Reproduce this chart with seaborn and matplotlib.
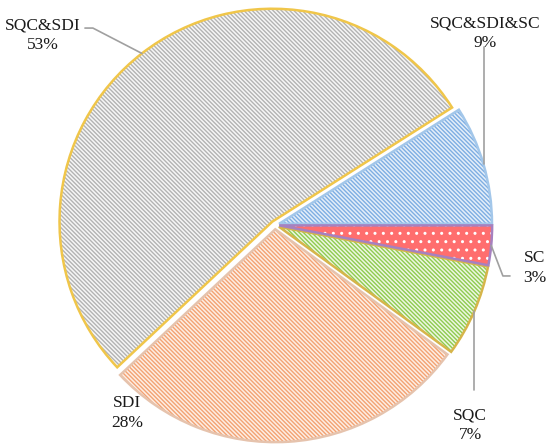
import numpy as np
import matplotlib.pyplot as plt
import seaborn as sns

# data
categories = ['SQC&SDI&SC', 'SQC&SDI', 'SDI', 'SQC', 'SC']
shares = [9, 53, 28, 7, 3]

sns.set_style('white')
plt.rcParams['font.family'] = ['Liberation Serif', 'DejaVu Serif']
plt.rcParams['hatch.linewidth'] = 1.0

face_colors = ['#e4eef9', '#f6f6f6', '#fdeee4', '#edf7e2', '#ff6e6e']
stripe_colors = ['#7eaee2', '#b3b3b3', '#f3a273', '#8fcb4f', '#ffffff']
edge_colors = ['#a3c7ea', '#f0c64a', '#e6c3ad', '#d6b54a', '#a681c0']
hatches = ['\\' * 8, '\\' * 8, '\\' * 8, '\\' * 8, '..']

# label block centres (data units, pie radius ~1) and leader line bends
label_pos = {
    'SQC&SDI&SC': (0.977, 0.89),
    'SQC&SDI': (-1.079, 0.884),
    'SDI': (-0.688, -0.874),
    'SQC': (0.907, -0.93),
    'SC': (1.209, -0.2),
}
leader_bends = {
    'SQC&SDI&SC': [('vert', 0.828)],
    'SQC&SDI': [(-0.847, 0.916), (-0.884, 0.916)],
    'SDI': None,
    'SQC': [('vert', -0.767)],
    'SC': [(1.06, -0.237), (1.093, -0.237)],
}

fig = plt.figure(figsize=(5.5, 4.47), dpi=100)
ax = fig.add_axes([0, 0, 1, 1])

explode = [0.02] * len(shares)
wedges, _ = ax.pie(shares, startangle=0, counterclock=True, radius=0.99,
                   explode=explode, colors=face_colors,
                   wedgeprops=dict(linewidth=0))
for w, sc, h in zip(wedges, stripe_colors, hatches):
    w.set_edgecolor(sc)
    w.set_hatch(h)

outline, _ = ax.pie(shares, startangle=0, counterclock=True, radius=0.99,
                    explode=explode,
                    wedgeprops=dict(fill=False, linewidth=1.8))
for w, ec in zip(outline, edge_colors):
    w.set_edgecolor(ec)

# labels + leader lines
for w, cat, val in zip(wedges, categories, shares):
    mid = np.deg2rad((w.theta1 + w.theta2) / 2)
    ax_x, ax_y = w.center[0] + w.r * np.cos(mid), w.center[1] + w.r * np.sin(mid)
    tx, ty = label_pos[cat]
    ax.text(tx, ty, f'{cat}\n{val}%', ha='center', va='center',
            fontsize=12.5, color='#1a1a1a', linespacing=1.3)
    bends = leader_bends[cat]
    if bends is None:
        continue
    xs, ys = [ax_x], [ax_y]
    for b in bends:
        if b[0] == 'vert':
            xs.append(ax_x)
            ys.append(b[1])
        else:
            xs.append(b[0])
            ys.append(b[1])
    ax.plot(xs, ys, color='#a0a0a0', lw=1.2)

ax.set_xlim(-275 / 215, 275 / 215)
ax.set_ylim(-222 / 215, 225 / 215)
ax.set_aspect('equal')
ax.axis('off')

plt.savefig('out.png', dpi=100)
